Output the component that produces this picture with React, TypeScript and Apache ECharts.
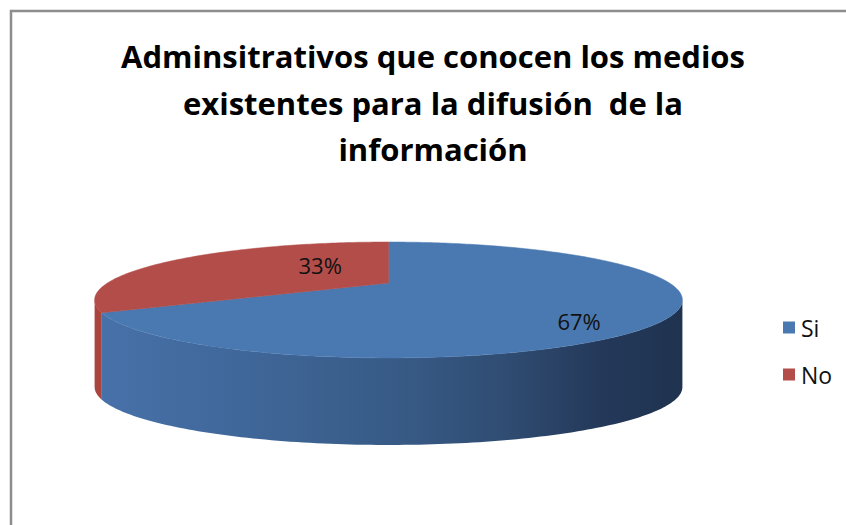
import React, { useEffect, useRef } from "react";
import * as echarts from "echarts";

// ---- data ----
const categories: string[] = ["Si", "No"];
const values: number[] = [67, 33];
const titleText = "Adminsitrativos que conocen los medios\nexistentes para la difusión  de la\ninformación";

// ---- layout / style constants ----
const W = 846;
const H = 525;
const CX = 388.5; // projected pie centre
const CY = 283;
const RX = 281; // horizontal radius factor
const RY = 53; // vertical radius factor
const PERSP = -0.293; // perspective factor
const DEPTH = 87; // thickness of the pie
const topColors = ["#4a79b1", "#b24d49"];
const labelR = [0.705, 0.295];
const labelDy = [17, -10];
const FONT = "'Open Sans', Lato, 'DejaVu Sans', sans-serif";

const total = values.reduce((a, b) => a + b, 0);
const slices = categories.map((name, i) => {
  const start = values.slice(0, i).reduce((a, b) => a + b, 0);
  return { name, value: values[i], start, end: start + values[i] };
});

function proj(deg: number, r: number, depth: number): number[] {
  const p = (deg * Math.PI) / 180;
  const u = r * Math.sin(p);
  const v = -r * Math.cos(p);
  const den = 1 + PERSP * v;
  return [CX + (RX * u) / den, CY + depth + (RY * v) / den];
}

// visible silhouette of the side wall
const sideMin = (Math.acos(PERSP) * 180) / Math.PI; // ~107
const sideMax = 360 - sideMin; // ~253

function sideFill(i: number) {
  if (i === 0) {
    return new echarts.graphic.LinearGradient(
      100, 0, 682, 0,
      [
        { offset: 0, color: "#4771a9" },
        { offset: 0.34, color: "#3d6393" },
        { offset: 0.52, color: "#375a85" },
        { offset: 0.69, color: "#304d73" },
        { offset: 0.86, color: "#24395a" },
        { offset: 1, color: "#1f3350" },
      ],
      true
    );
  }
  return "#a9443f";
}

function makeRenderItem(idx: number) {
  return (params: any, api: any) => {
    const v0 = api.value(1) as number;
    const v1 = api.value(2) as number;
    const val = api.value(0) as number;
    const a0 = (v0 / total) * 360;
    const a1 = (v1 / total) * 360;
    const children: any[] = [];

    // side wall
    const b0 = Math.max(a0, sideMin);
    const b1 = Math.min(a1, sideMax);
    if (b1 > b0) {
      const pts: number[][] = [];
      const n = Math.max(2, Math.ceil(b1 - b0));
      for (let k = 0; k <= n; k++) pts.push(proj(b0 + ((b1 - b0) * k) / n, 1, 0));
      for (let k = n; k >= 0; k--) pts.push(proj(b0 + ((b1 - b0) * k) / n, 1, DEPTH));
      children.push({
        type: "polygon",
        shape: { points: pts },
        style: { fill: sideFill(idx), stroke: null },
      });
    }

    // top face
    const top: number[][] = [proj(0, 0, 0)];
    const m = Math.max(2, Math.ceil(a1 - a0));
    for (let k = 0; k <= m; k++) top.push(proj(a0 + ((a1 - a0) * k) / m, 1, 0));
    children.push({
      type: "polygon",
      shape: { points: top },
      style: { fill: topColors[idx], stroke: topColors[idx], lineWidth: 0.5 },
    });

    // label
    const mid = (a0 + a1) / 2;
    const lp = proj(mid, labelR[idx], 0);
    children.push({
      type: "text",
      x: lp[0],
      y: lp[1] + labelDy[idx],
      style: {
        text: Math.round((val / total) * 100) + "%",
        fontSize: 22,
        fontFamily: FONT,
        fill: "#111",
        align: "center",
        verticalAlign: "middle",
        textAlign: "center",
        textVerticalAlign: "middle",
      },
    });
    return { type: "group", children };
  };
}

export default function App() {
  const ref = useRef<HTMLDivElement>(null);
  useEffect(() => {
    if (!ref.current) return;
    const chart = echarts.init(ref.current, null, { renderer: "svg" });
    chart.setOption({
      animation: false,
      backgroundColor: "#ffffff",
      title: {
        text: titleText,
        left: 433,
        top: 33,
        textAlign: "center",
        padding: 0,
        textStyle: {
          fontFamily: FONT,
          fontWeight: "bold",
          fontSize: 31,
          lineHeight: 46.5,
          color: "#000",
        },
      },
      legend: {
        orient: "vertical",
        left: 778,
        top: 311,
        itemWidth: 12,
        itemHeight: 12,
        itemGap: 24,
        icon: "rect",
        data: categories,
        textStyle: {
          fontFamily: FONT,
          fontSize: 23,
          color: "#111",
          padding: [0, 0, 0, 1],
        },
      },
      graphic: [
        {
          type: "polyline",
          shape: { points: [[11, H], [11, 11], [W, 11]] },
          style: { stroke: "#8d8d8d", lineWidth: 2.5, fill: null },
          silent: true,
        },
      ],
      series: slices.map((s, i) => ({
        type: "custom",
        name: s.name,
        coordinateSystem: "none",
        renderItem: makeRenderItem(i),
        itemStyle: { color: topColors[i] },
        data: [{ name: s.name, value: [s.value, s.start, s.end] }],
      })),
    });
    return () => chart.dispose();
  }, []);
  return (
    <div
      ref={ref}
      style={{ position: "fixed", left: 0, top: 0, width: W, height: H, background: "#fff" }}
    />
  );
}
